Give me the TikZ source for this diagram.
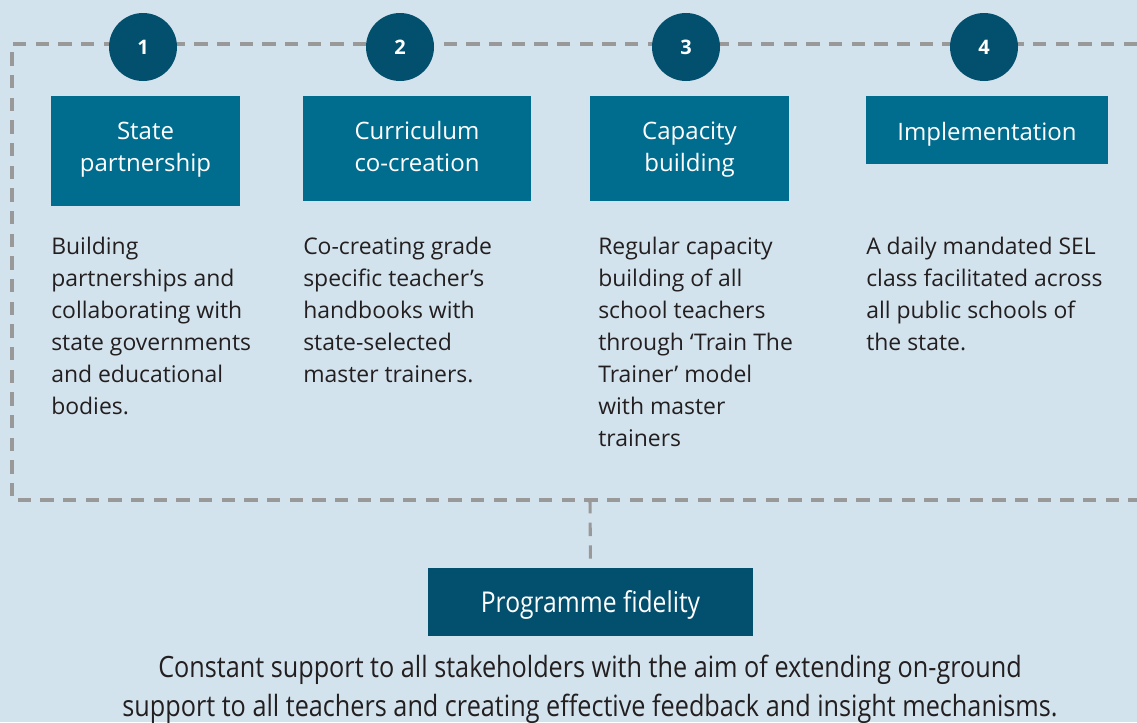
\documentclass[tikz,border=0pt]{standalone}
\usepackage{fontspec}
\setmainfont{Open Sans}
\newfontfamily\condfont[FakeStretch=0.86]{Open Sans}
\definecolor{bgc}{HTML}{D3E3ED}
\definecolor{boxc}{HTML}{006D8F}
\definecolor{darkc}{HTML}{034F6E}
\definecolor{dashc}{HTML}{999999}
\definecolor{txtc}{HTML}{231F20}
\tikzset{
  px/.style={x=0.75pt,y=-0.75pt},
  dashline/.style={draw=dashc,line width=2.3pt,dash pattern=on 10pt off 7pt},
  numcirc/.style={circle,fill=darkc,minimum size=51pt,inner sep=0pt,text=white,font=\bfseries\fontsize{15}{18}\selectfont},
  stagebox/.style={fill=boxc,text=white,inner sep=0pt,align=center,font=\fontsize{18}{23.3}\selectfont},
  boxlabel/.style={anchor=base,inner sep=0pt,text=white,font=\fontsize{18}{24}\selectfont},
  desc/.style={anchor=base west,inner sep=0pt,align=left,text=txtc,font=\fontsize{17.2}{24}\selectfont},
}
\begin{document}
\begin{tikzpicture}[px]
\useasboundingbox (0,0) rectangle (1137,722);
\fill[bgc] (0,0) rectangle (1137,722);
% dashed frame
\coordinate (tl) at (12,44);
\coordinate (bl) at (12,500);
\coordinate (tr) at (1137,44);
\coordinate (br) at (1137,500);
\coordinate (bm) at (590,500);
\draw[dashline] (tr) -- (tl) -- (bl) -- (br);
% circles
\node[numcirc] (c1) at (143,47) {1};
\node[numcirc] (c2) at (400,47) {2};
\node[numcirc] (c3) at (686,47) {3};
\node[numcirc] (c4) at (984,47) {4};
% boxes
\node[stagebox,minimum width=141.75pt,minimum height=82.5pt] (b1) at (145.5,150.5) {};
\node[stagebox,anchor=base,align=center] (l1) at (145.5,171) {State\\partnership};
\node[stagebox,minimum width=171pt,minimum height=78.75pt] (b2) at (417,148.5) {};
\node[stagebox,anchor=base] (l2) at (417,171) {Curriculum\\co-creation};
\node[stagebox,minimum width=149.25pt,minimum height=78.75pt] (b3) at (689.5,148.5) {};
\node[stagebox,anchor=base] (l3) at (689.5,171) {Capacity\\building};
\node[stagebox,minimum width=181.5pt,minimum height=51pt] (b4) at (987,130) {};
\node[boxlabel] (l4) at (987,140) {Implementation};
% descriptions (anchored at baseline of last line)
\node[desc] (d1) at (51,414) {Building\\partnerships and\\collaborating with\\state governments\\and educational\\bodies.};
\node[desc] (d2) at (303,382) {Co-creating grade\\specific teacher’s\\handbooks with\\state-selected\\master trainers.};
\node[desc] (d3) at (598,446) {Regular capacity\\building of all\\school teachers\\through ‘Train The\\Trainer’ model\\with master\\trainers};
\node[desc] (d4) at (866,350) {A daily mandated SEL\\class facilitated across\\all public schools of\\the state.};
% programme fidelity
\node[fill=darkc,minimum width=243.75pt,minimum height=51pt,inner sep=0pt] (pf) at (590.5,602) {};
\node[anchor=base,inner sep=0pt,text=white,font=\condfont\fontsize{21.5}{24}\selectfont] (pft) at (590.5,612) {Programme fidelity};
\draw[dashline] (bm) -- (pf.north);
\node[anchor=base,inner sep=0pt,align=center,text=txtc,font=\condfont\fontsize{22}{29}\selectfont] (bt) at (590,716) {Constant support to all stakeholders with the aim of extending on-ground\\support to all teachers and creating effective feedback and insight mechanisms.};
\end{tikzpicture}
\end{document}
